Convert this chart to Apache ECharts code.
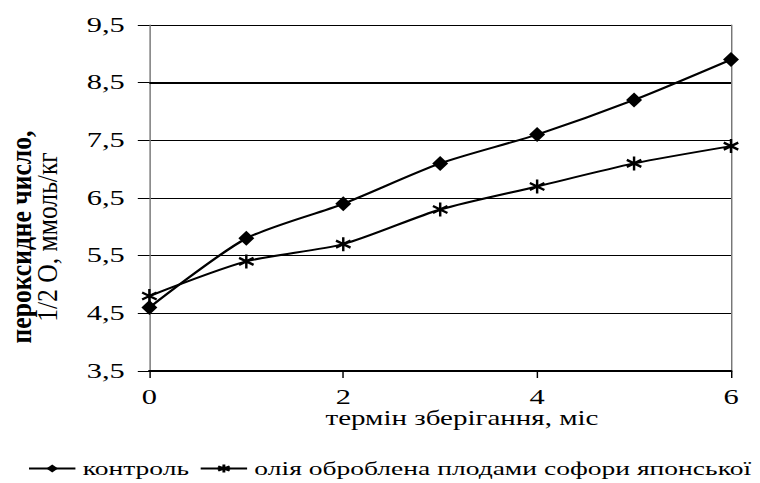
<!DOCTYPE html>
<html>
<head>
<meta charset="utf-8">
<script src="https://cdn.jsdelivr.net/npm/echarts@6/dist/echarts.min.js"></script>
<style>
html,body{margin:0;padding:0;background:#fff;overflow:hidden;}
#chart{width:524px;height:483px;transform:scaleX(1.4504);transform-origin:0 0;}
</style>
</head>
<body>
<div id="chart"></div>
<script>
const months = [0, 1, 2, 3, 4, 5, 6];
const control = [4.6, 5.8, 6.4, 7.1, 7.6, 8.2, 8.9];
const sophora = [4.8, 5.4, 5.7, 6.3, 6.7, 7.1, 7.4];
const yTicks = [3.5, 4.5, 5.5, 6.5, 7.5, 8.5, 9.5];
const xTicks = [0, 2, 4, 6];
const seriesNames = ['контроль', 'олія оброблена плодами софори японської'];
const xTitle = 'термін зберігання, міс';
const yTitle1 = 'пероксидне число,';
const yTitle2 = '1/2 О, ммоль/кг';

const FONT = 'Liberation Serif';
const asterisk = 'path://M5,0 L5,10 M0.67,2.5 L9.33,7.5 M0.67,7.5 L9.33,2.5';

const chart = echarts.init(document.getElementById('chart'), null, {renderer: 'svg'});
chart.setOption({
  animation: false,
  backgroundColor: '#fff',
  textStyle: {fontFamily: FONT},
  grid: {left: 103, right: 20, top: 25, bottom: 112, containLabel: false},
  graphic: [{
    type: 'text', x: 15, y: 237, rotation: Math.PI / 2, scaleX: 1.28, scaleY: 1,
    style: {text: yTitle1, fill: '#000', fontFamily: FONT, fontSize: 20, fontWeight: 'bold',
      align: 'center', verticalAlign: 'middle', textAlign: 'center', textVerticalAlign: 'middle'}
  }, {
    type: 'text', x: 33, y: 237, rotation: Math.PI / 2, scaleX: 1.28, scaleY: 1,
    style: {text: yTitle2, fill: '#000', fontFamily: FONT, fontSize: 20,
      align: 'center', verticalAlign: 'middle', textAlign: 'center', textVerticalAlign: 'middle'}
  }],
  xAxis: {
    type: 'value', min: 0, max: 6, interval: 2,
    axisLine: {show: true, lineStyle: {color: '#000', width: 2}},
    axisTick: {show: true, length: 7, lineStyle: {color: '#000', width: 1}, customValues: xTicks},
    axisLabel: {customValues: xTicks, margin: 16, color: '#000', fontFamily: FONT, fontSize: 21},
    splitLine: {show: false},
    name: xTitle, nameLocation: 'middle', nameGap: 37, nameMoveOverlap: false,
    nameTextStyle: {color: '#000', fontFamily: FONT, fontSize: 20, padding: [0, 0, 0, 30]}
  },
  yAxis: [{
    type: 'value', min: 3.5, max: 9.5,
    axisLine: {show: true, lineStyle: {color: '#777', width: 1}},
    axisTick: {show: true, length: 8, lineStyle: {color: '#000', width: 1}, customValues: yTicks},
    axisLabel: {customValues: yTicks, margin: 17, color: '#000', fontFamily: FONT, fontSize: 21,
      formatter: v => String(v).replace('.', ',')},
    splitLine: {show: true, lineStyle: {color: '#000', width: 1}}
  }, {
    type: 'value', min: 3.5, max: 9.5, position: 'right',
    axisLine: {show: true, lineStyle: {color: '#777', width: 1}},
    axisTick: {show: false}, axisLabel: {show: false}, splitLine: {show: false}
  }],
  legend: {
    orient: 'horizontal', bottom: 5, left: 19, padding: 0,
    itemWidth: 32, itemHeight: 10, itemGap: 7,
    textStyle: {color: '#000', fontFamily: FONT, fontSize: 19},
    data: seriesNames
  },
  series: [{
    name: seriesNames[0], type: 'line', smooth: 0.25,
    data: months.map((m, i) => [m, control[i]]),
    symbol: 'diamond', symbolSize: [11, 15],
    lineStyle: {color: '#000', width: 2},
    itemStyle: {color: '#000'},
    markLine: {
      silent: true, symbol: ['none', 'none'], label: {show: false},
      lineStyle: {color: '#000', width: 2, type: 'solid'},
      data: [{yAxis: 8.5}]
    }
  }, {
    name: seriesNames[1], type: 'line', smooth: 0.25,
    data: months.map((m, i) => [m, sophora[i]]),
    symbol: asterisk, symbolSize: [10, 14],
    lineStyle: {color: '#000', width: 2},
    itemStyle: {color: '#000', borderColor: '#000', borderWidth: 2}
  }]
});
</script>
</body>
</html>
